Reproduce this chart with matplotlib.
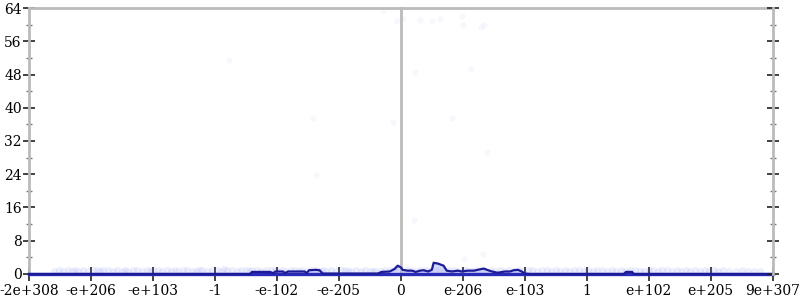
import matplotlib
matplotlib.use("Agg")
import matplotlib.pyplot as plt
from matplotlib.ticker import MultipleLocator

plt.rcParams['font.family'] = ['DejaVu Serif']

tick_labels = ['-2e+308', '-e+206', '-e+103', '-1', '-e-102', '-e-205', '0',
               'e-206', 'e-103', '1', 'e+102', 'e+205', '9e+307']
tick_pos = list(range(-6, 7))

line_x = [-6.0, -2.435, -2.40, -2.11, -2.06, -2.02, -1.90, -1.87, -1.82, -1.55,
          -1.52, -1.48, -1.37, -1.31, -1.26, -0.37, -0.31, -0.18, -0.10, -0.05,
          0.0, 0.03, 0.11, 0.18, 0.24, 0.31, 0.37, 0.44, 0.50, 0.53, 0.60, 0.69,
          0.74, 0.82, 0.92, 0.98, 1.08, 1.18, 1.27, 1.34, 1.39, 1.47, 1.56, 1.68,
          1.76, 1.82, 1.89, 1.95, 2.00, 2.08, 3.60, 3.63, 3.73, 3.76, 6.0]
line_y = [0.0, 0.0, 0.5, 0.5, 0.2, 0.6, 0.6, 0.2, 0.6, 0.6,
          0.2, 0.9, 1.0, 0.9, 0.1, 0.1, 0.5, 0.6, 1.2, 2.0,
          1.6, 1.0, 0.8, 0.8, 0.5, 0.8, 0.9, 0.6, 1.0, 2.7, 2.5, 2.0,
          0.8, 0.6, 0.8, 0.6, 0.8, 0.8, 1.1, 1.3, 1.0, 0.6, 0.3, 0.6,
          0.6, 0.9, 1.0, 0.6, 0.1, 0.0, 0.0, 0.5, 0.5, 0.0, 0.0]

band_x = [-5.6, -5.52, -5.45, -5.37, -5.3, -5.25, -5.2, -5.12, -5.05, -4.97,
          -4.9, -4.85, -4.8, -4.72, -4.65, -4.57, -4.5, -4.45, -4.4, -4.32,
          -4.25, -4.17, -4.1, -4.05, -4.0, -3.92, -3.85, -3.77, -3.7, -3.65,
          -3.6, -3.52, -3.45, -3.37, -3.3, -3.25, -3.2, -3.12, -3.05, -2.97,
          -2.9, -2.85, -2.8, -2.72, -2.65, -2.57, -2.5, -2.45, -2.4, -2.32,
          -2.25, -2.17, -2.1, -2.05, -2.0, -1.92, -1.85, -1.77, -1.7, -1.65,
          -1.6, -1.52, -1.45, -1.37, -1.3, -1.25, -1.2, -1.12, -1.05, -0.97,
          -0.9, -0.85, -0.8, -0.72, -0.65, -0.57, -0.5, -0.45, -0.4, -0.32,
          -0.25, -0.17, -0.1, 0.1, 0.17, 0.25, 0.32, 0.4, 0.47, 0.55,
          0.62, 0.7, 0.77, 0.85, 0.92, 1.0, 1.07, 1.15, 1.22, 1.3,
          1.37, 1.45, 1.52, 1.6, 1.67, 1.75, 1.82, 1.9, 1.97, 2.05,
          2.12, 2.2, 2.27, 2.35, 2.42, 2.5, 2.57, 2.65, 2.72, 2.8,
          2.87, 2.95, 3.02, 3.1, 3.17, 3.25, 3.32, 3.4, 3.47, 3.55,
          3.62, 3.7, 3.77, 3.85, 3.92, 4.0, 4.07, 4.15, 4.22, 4.3,
          4.37, 4.45, 4.52, 4.6, 4.67, 4.75, 4.82, 4.9, 4.97, 5.05,
          5.12, 5.2, 5.3, 5.4, 5.5, 5.6, 5.7, 5.8]
band_y = [0.8, 0.9, 0.7, 0.9, 0.8, 1.0, 0.7, 0.9, 0.8, 1.0,
          0.9, 0.7, 0.9, 1.0, 0.8, 0.9, 0.7, 1.0, 0.8, 0.9,
          1.0, 0.8, 0.9, 0.7, 1.0, 0.9, 0.8, 1.0, 0.7, 0.9,
          0.8, 1.0, 0.9, 0.7, 0.8, 1.0, 0.9, 0.8, 1.0, 0.9,
          0.8, 1.1, 1.0, 0.9, 0.8, 1.0, 0.9, 0.8, 1.0, 0.9,
          0.8, 1.0, 0.9, 0.7, 0.9, 1.0, 0.8, 0.9, 1.0, 0.7,
          0.9, 0.8, 1.0, 0.9, 0.8, 1.0, 0.7, 0.9, 0.8, 1.0,
          0.9, 0.8, 0.7, 0.9, 0.8, 0.9, 0.7, 0.8, 0.7, 0.8,
          0.9, 1.0, 1.1, 1.0, 0.9, 0.8, 1.0, 0.9, 0.8, 1.0,
          0.9, 0.8, 1.0, 0.9, 0.7, 0.9, 1.0, 0.8, 0.9, 1.0,
          0.8, 0.9, 0.7, 0.9, 0.8, 1.0, 0.7, 0.9, 0.8, 1.0,
          0.9, 0.7, 0.9, 1.0, 0.8, 0.9, 0.7, 1.0, 0.8, 0.9,
          1.0, 0.8, 0.9, 0.7, 1.0, 0.9, 0.8, 1.0, 0.7, 0.9,
          0.8, 1.0, 0.9, 0.7, 0.8, 1.0, 0.9, 0.8, 1.0, 0.9,
          0.8, 0.9, 0.7, 0.9, 0.8, 1.0, 0.7, 0.9, 0.8, 0.9,
          0.8, 0.9, 0.7, 0.8, 0.9, 0.7, 0.8, 0.7]

upper_x = [-0.29, -0.06, 0.03, 0.31, 0.50, 0.63, 0.98, 1.00, 1.34, 1.29,
           0.23, 1.13, -0.13, 0.82, -2.77, -1.37, -1.42, 1.39, 1.32, 1.02, 0.21]
upper_y = [63.5, 60.9, 61.4, 61.1, 60.9, 61.4, 62.1, 59.9, 59.9, 59.4,
           48.6, 49.3, 36.6, 37.5, 51.5, 23.8, 37.5, 29.4, 4.8, 3.6, 13.0]

fig = plt.figure(figsize=(8, 3), dpi=100)
ax = fig.add_axes([0.036, 0.0867, 0.930, 0.8866])

ax.scatter(band_x, band_y, s=26, color='#5a6af0', alpha=0.10, linewidths=0, zorder=2)
ax.scatter(upper_x, upper_y, s=22, color='#5a6af0', alpha=0.045, linewidths=0, zorder=2)
ax.fill_between(line_x, 0, line_y, color='#b8c0f4', alpha=0.6, linewidth=0, zorder=3)
ax.axhline(0, color='#2a2ab8', linewidth=2.4, zorder=4, clip_on=False)
ax.plot(line_x, line_y, color='#1c1c96', linewidth=1.6, zorder=5, clip_on=False)

ax.set_xlim(-6, 6)
ax.set_ylim(0, 64)
ax.set_xticks(tick_pos)
ax.set_xticklabels(tick_labels)
ax.yaxis.set_major_locator(MultipleLocator(8))
ax.yaxis.set_minor_locator(MultipleLocator(4))

for s in ['left', 'top']:
    ax.spines[s].set_color('#bbbbbb')
    ax.spines[s].set_linewidth(2)
ax.spines['bottom'].set_visible(False)
ax.spines['right'].set_position(('data', 0))
ax.spines['right'].set_color('#bbbbbb')
ax.spines['right'].set_linewidth(2)

ax.yaxis.set_ticks_position('both')
ax.tick_params(axis='y', which='major', direction='inout', length=8, width=1.2,
               color='#222222', labelsize=10, pad=1)
ax.tick_params(axis='y', which='minor', direction='inout', length=4, width=1,
               color='#777777')
ax.tick_params(axis='x', which='major', direction='inout', length=10, width=1.2,
               color='#222222', labelsize=10, pad=2)

ax2 = ax.twinx()
ax2.set_ylim(0, 64)
ax2.yaxis.set_major_locator(MultipleLocator(8))
ax2.yaxis.set_minor_locator(MultipleLocator(4))
for s in ['left', 'top', 'bottom']:
    ax2.spines[s].set_visible(False)
ax2.spines['right'].set_color('#bbbbbb')
ax2.spines['right'].set_linewidth(2)
ax2.tick_params(axis='y', which='major', direction='inout', length=8, width=1.2,
                color='#222222', labelright=False)
ax2.tick_params(axis='y', which='minor', direction='inout', length=4, width=1,
                color='#777777')

fig.savefig('out.png', dpi=100)
